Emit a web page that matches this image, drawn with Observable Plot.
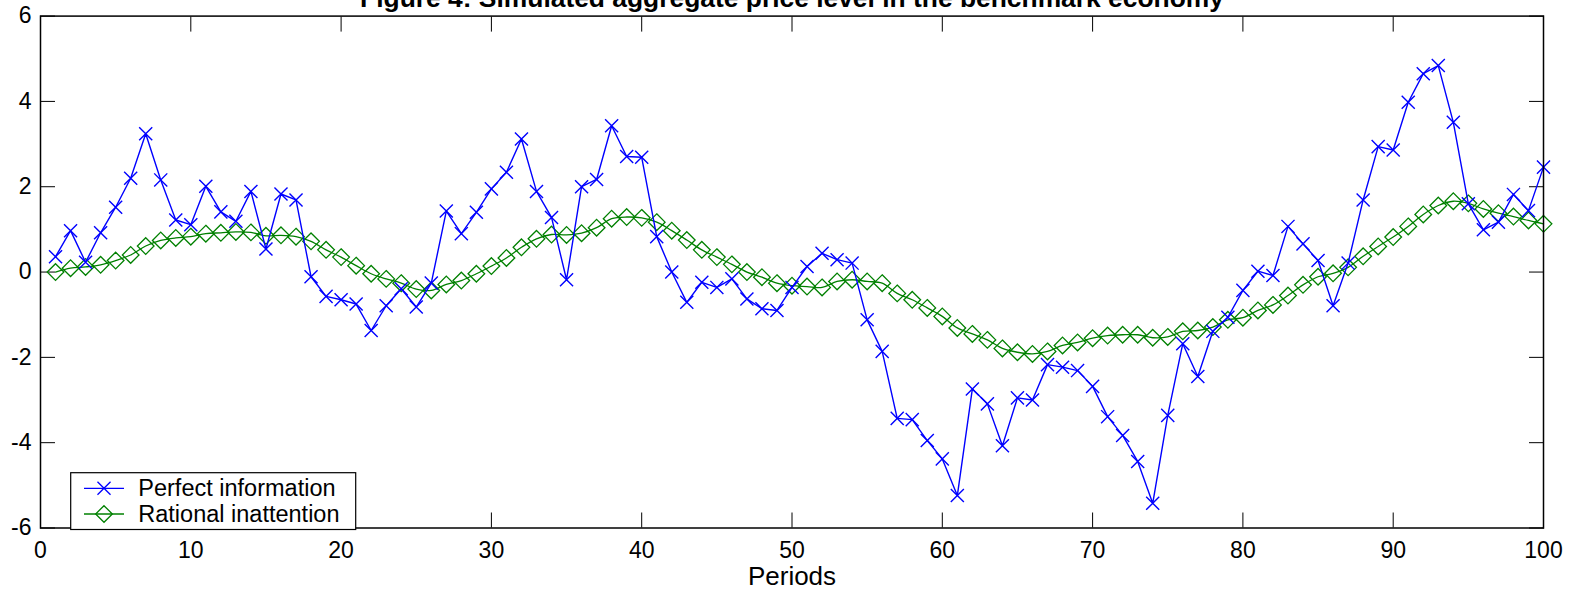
<!DOCTYPE html>
<html>
<head>
<meta charset="utf-8">
<script src="https://cdn.jsdelivr.net/npm/d3@7"></script>
<script src="https://cdn.jsdelivr.net/npm/@observablehq/plot@0.6"></script>
<style>
  html, body { margin: 0; padding: 0; background: #fff; }
  #chart { position: relative; width: 1575px; height: 592px; overflow: hidden; }
</style>
</head>
<body>
<div id="chart"></div>
<script>
const titleText = "Figure 4: Simulated aggregate price level in the benchmark economy";
const xLabel = "Periods";
const seriesNames = ["Perfect information", "Rational inattention"];
const xTicks = [0, 10, 20, 30, 40, 50, 60, 70, 80, 90, 100];
const yTicks = [-6, -4, -2, 0, 2, 4, 6];

const periods = d3.range(1, 101);
const perfectInfo = [
  0.36, 0.97, 0.23, 0.92, 1.52, 2.20, 3.24, 2.16, 1.22, 1.11,
  2.01, 1.41, 1.19, 1.89, 0.54, 1.83, 1.69, -0.11, -0.57, -0.65,
  -0.75, -1.37, -0.79, -0.39, -0.82, -0.26, 1.43, 0.90, 1.40, 1.95,
  2.34, 3.12, 1.89, 1.28, -0.18, 2.00, 2.17, 3.43, 2.71, 2.69,
  0.83, 0.00, -0.71, -0.24, -0.36, -0.16, -0.63, -0.86, -0.90, -0.36,
  0.13, 0.44, 0.29, 0.21, -1.12, -1.86, -3.43, -3.46, -3.95, -4.38,
  -5.24, -2.74, -3.09, -4.07, -2.95, -3.00, -2.17, -2.23, -2.31, -2.68,
  -3.39, -3.83, -4.44, -5.42, -3.36, -1.68, -2.45, -1.39, -1.06, -0.43,
  0.02, -0.08, 1.07, 0.66, 0.27, -0.79, 0.21, 1.69, 2.94, 2.86,
  3.98, 4.65, 4.84, 3.51, 1.60, 0.99, 1.17, 1.82, 1.44, 2.46
];
const rationalInattention = [
  0.00, 0.09, 0.12, 0.17, 0.27, 0.40, 0.61, 0.74, 0.80, 0.83,
  0.90, 0.92, 0.94, 0.93, 0.85, 0.86, 0.83, 0.72, 0.52, 0.35,
  0.15, -0.04, -0.16, -0.26, -0.40, -0.43, -0.29, -0.20, -0.04, 0.14,
  0.33, 0.58, 0.78, 0.88, 0.87, 0.91, 1.04, 1.25, 1.29, 1.27,
  1.17, 0.97, 0.75, 0.52, 0.35, 0.18, 0.00, -0.12, -0.26, -0.32,
  -0.34, -0.36, -0.22, -0.18, -0.22, -0.26, -0.50, -0.65, -0.84, -1.04,
  -1.31, -1.45, -1.59, -1.79, -1.88, -1.92, -1.86, -1.72, -1.65, -1.55,
  -1.49, -1.47, -1.47, -1.54, -1.52, -1.39, -1.37, -1.29, -1.12, -1.07,
  -0.90, -0.77, -0.55, -0.30, -0.11, -0.03, 0.11, 0.37, 0.60, 0.82,
  1.07, 1.35, 1.56, 1.66, 1.61, 1.48, 1.38, 1.30, 1.21, 1.13
];

const blue = "#0000ff";
const green = "#008000";

const pData = periods.map((t, i) => ({t, v: perfectInfo[i]}));
const rData = periods.map((t, i) => ({t, v: rationalInattention[i]}));

const fmt = d => String(d);

const plot = Plot.plot({
  width: 1575,
  height: 592,
  marginLeft: 40,
  marginRight: 32,
  marginTop: 15.6,
  marginBottom: 64.5,
  x: {domain: [0, 100]},
  y: {domain: [-6, 6]},
  style: {
    fontFamily: "'Liberation Sans', Arial, Helvetica, sans-serif",
    fontSize: "23px",
    background: "#fff",
    color: "#000",
    overflow: "visible"
  },
  marks: [
    Plot.axisX({ticks: xTicks, anchor: "bottom", tickSize: -15, tickPadding: 29, tickFormat: fmt, label: null, stroke: "#000", strokeWidth: 1}),
    Plot.axisX({ticks: xTicks, anchor: "top", tickSize: -15, tickFormat: () => "", label: null, stroke: "#000", strokeWidth: 1}),
    Plot.axisY({ticks: yTicks, anchor: "left", tickSize: -15, tickPadding: 24, tickFormat: fmt, label: null, stroke: "#000", strokeWidth: 1}),
    Plot.axisY({ticks: yTicks, anchor: "right", tickSize: -15, tickFormat: () => "", label: null, stroke: "#000", strokeWidth: 1}),
    Plot.line(rData, {x: "t", y: "v", stroke: green, strokeWidth: 1.3, curve: "catmull-rom"}),
    Plot.dot(rData, {x: "t", y: "v", symbol: "diamond2", r: 7.5, stroke: green, strokeWidth: 1.3, fill: "none"}),
    Plot.line(pData, {x: "t", y: "v", stroke: blue, strokeWidth: 1.4}),
    Plot.dot(pData, {x: "t", y: "v", symbol: "times", r: 6, stroke: blue, strokeWidth: 1.4}),
    Plot.frame({stroke: "#000", strokeWidth: 1.5}),
    Plot.text([titleText], {frameAnchor: "top", dy: -9.6, lineAnchor: "bottom", fontWeight: "bold", fontSize: 26.4, fill: "#000"}),
    Plot.text([xLabel], {frameAnchor: "bottom", dy: 56.5, lineAnchor: "bottom", fontSize: 26, fill: "#000"})
  ]
});

document.getElementById("chart").appendChild(plot);

// Legend (MATLAB-style box inside the axes, lower left)
const svg = d3.select(plot);
const lg = svg.append("g").attr("font-size", 23.5).attr("text-anchor", "start");
lg.append("rect")
  .attr("x", 70.7).attr("y", 472.7).attr("width", 285).attr("height", 56.8)
  .attr("fill", "#fff").attr("stroke", "#000").attr("stroke-width", 1.2);
const entries = [
  {name: seriesNames[0], color: blue, sym: d3.symbolTimes, size: 113, cy: 488.3},
  {name: seriesNames[1], color: green, sym: d3.symbolDiamond2, size: 177, cy: 514}
];
for (const e of entries) {
  lg.append("line").attr("x1", 84).attr("x2", 124).attr("y1", e.cy).attr("y2", e.cy)
    .attr("stroke", e.color).attr("stroke-width", 1.3);
  lg.append("path").attr("d", d3.symbol(e.sym, e.size)())
    .attr("transform", `translate(104,${e.cy})`)
    .attr("fill", "none").attr("stroke", e.color).attr("stroke-width", 1.3);
  lg.append("text").attr("x", 138.3).attr("y", e.cy).attr("dy", "0.32em")
    .attr("text-anchor", "start").attr("fill", "#000").text(e.name);
}
</script>
</body>
</html>
